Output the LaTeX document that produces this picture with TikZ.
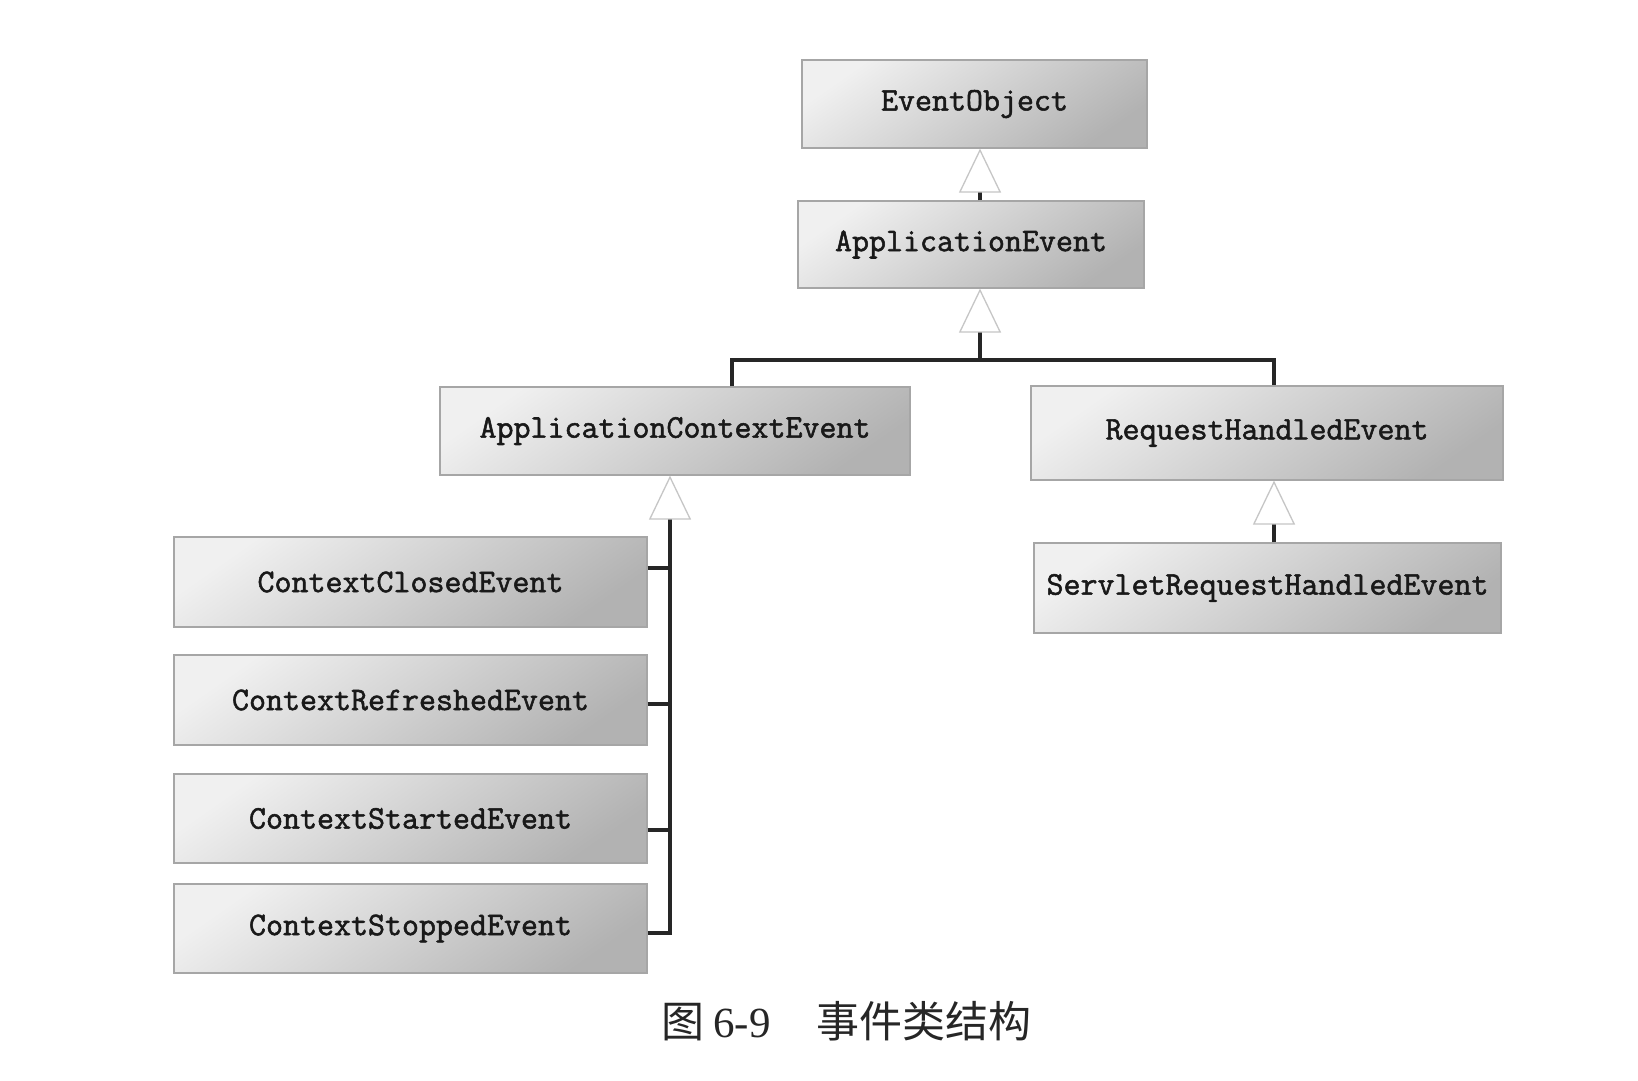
\documentclass[tikz,border=0pt]{standalone}
\usepackage{fontspec}
\newfontfamily\cjkfont{Noto Sans CJK SC}
\newfontfamily\numfont{Liberation Serif}
\newfontfamily\boxfont{Latin Modern Mono}[FakeBold=1.6]
\usetikzlibrary{arrows.meta}
\begin{document}
\begin{tikzpicture}[x=1pt,y=-1pt,
  cls/.style={draw=gray!70, line width=1.2pt, top color=gray!12, bottom color=gray!60, shading angle=35,
    inner sep=0pt, font=\boxfont\fontsize{33}{40}\selectfont, text=black!90},
  conn/.style={draw=black!85, line width=3.2pt},
  gen/.style={conn, -{Triangle[open, length=44pt, width=42pt, line width=1.3pt, color=gray!45, fill=white]}}]
\fill[white] (0,0) rectangle (1638,1080);
\useasboundingbox (0,0) rectangle (1638,1080);

% classes
\node[cls, minimum width=345pt, minimum height=88pt] (eo) at (974.5,104) {EventObject};
\node[cls, minimum width=346pt, minimum height=87pt] (ae) at (971,244.5) {ApplicationEvent};
\node[cls, minimum width=470pt, minimum height=88pt] (ace) at (675,431) {ApplicationContextEvent};
\node[cls, minimum width=472pt, minimum height=94pt] (rhe) at (1267,433) {RequestHandledEvent};
\node[cls, minimum width=467pt, minimum height=90pt] (srhe) at (1267.5,588) {ServletRequestHandledEvent};
\node[cls, minimum width=473pt, minimum height=90pt] (cce) at (410.5,582) {ContextClosedEvent};
\node[cls, minimum width=473pt, minimum height=90pt] (cre) at (410.5,700) {ContextRefreshedEvent};
\node[cls, minimum width=473pt, minimum height=89pt] (cse) at (410.5,818.5) {ContextStartedEvent};
\node[cls, minimum width=473pt, minimum height=89pt] (cste) at (410.5,928.5) {ContextStoppedEvent};

% coordinates for connector routing
\coordinate (x1) at (980,0);
\coordinate (j) at (980,360);
\coordinate (jl) at (732,360);
\coordinate (jr) at (1274,360);
\coordinate (s1) at (670,568);
\coordinate (s2) at (670,704);
\coordinate (s3) at (670,830);
\coordinate (s4) at (670,933);

% connectors
\draw[gen] (ae.north -| x1) -- (eo.south -| x1);
\draw[gen] (j) -- (ae.south -| j);
\draw[conn] (ace.north -| jl) -- (jl) -- (jr) -- (rhe.north -| jr);
\draw[gen] (srhe.north -| jr) -- (rhe.south -| jr);
\draw[gen] (cste.east |- s4) -- (s4) -- (ace.south -| s4);
\draw[conn] (cce.east |- s1) -- (s1);
\draw[conn] (cre.east |- s2) -- (s2);
\draw[conn] (cse.east |- s3) -- (s3);

% caption
\node[anchor=base west, inner sep=0pt, text=black!85] (cap) at (661,1037)
  {\cjkfont\fontsize{43}{50}\selectfont 图\hspace{9pt}{\numfont 6-9}\hspace{46pt}事件类结构};
\end{tikzpicture}
\end{document}
